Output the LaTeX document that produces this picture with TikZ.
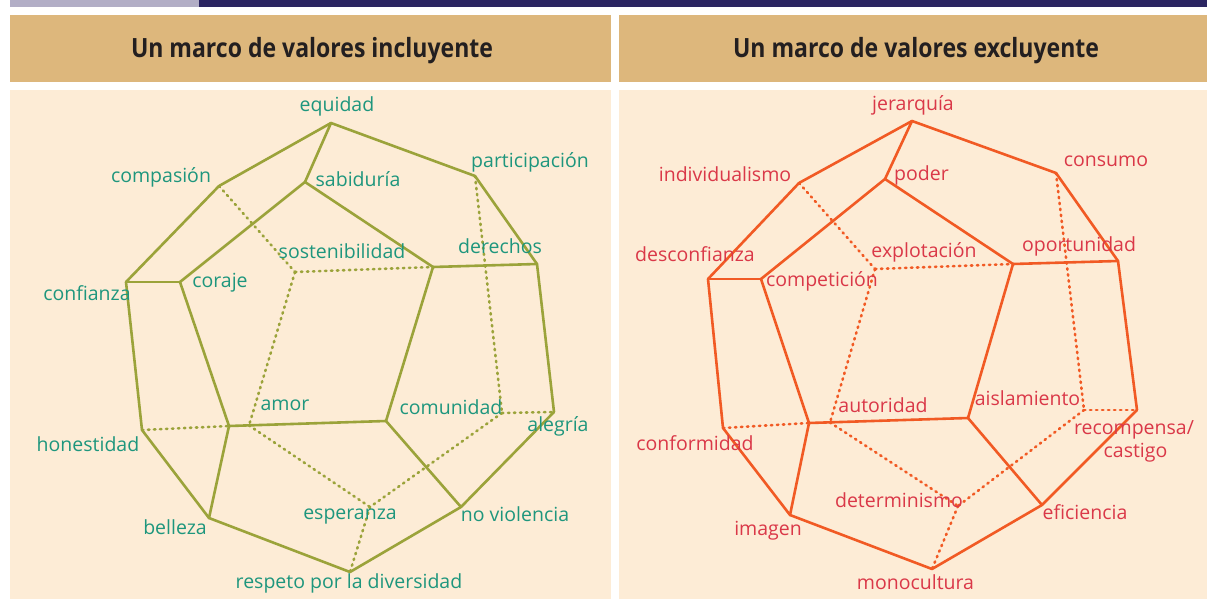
\documentclass[tikz,border=0pt]{standalone}
\usepackage{fontspec}
\setmainfont{Open Sans}
\newfontfamily\titlefont{Open Sans}
\definecolor{stripgray}{HTML}{B2AEC6}
\definecolor{stripnavy}{HTML}{2B2562}
\definecolor{headtan}{HTML}{DDB77C}
\definecolor{panelcream}{HTML}{FDECD6}
\definecolor{titleink}{HTML}{231F20}
\definecolor{oliveline}{HTML}{9BA33A}
\definecolor{tealtext}{HTML}{1E967D}
\definecolor{orangeline}{HTML}{F15A24}
\definecolor{redtext}{HTML}{DA3848}
\tikzset{
  solidedge/.style={line width=2.6pt, line join=round, line cap=round},
  dottededge/.style={line width=2.6pt, line cap=round, dash pattern=on 1.4pt off 4.6pt},
  vlabel/.style={anchor=base, inner sep=0pt, font=\fontsize{19.5}{22}\selectfont},
  titlelabel/.style={anchor=base, inner sep=0pt, text=titleink},
}
\newcommand\polyedges[3]{%
  \foreach \a/\b in {eq/com,eq/sab,eq/par,com/conf,sab/cor,sab/inn,par/der,conf/cor,inn/der,conf/hon,cor/amF,inn/comF,der/ale,hon/bel,amF/comF,amF/bel,comF/nov,ale/nov,bel/res,nov/res}
    \draw[solidedge,#2] (#1\a) -- (#1\b);
  \foreach \a/\b in {com/sos,sos/inn,sos/amH,par/comH,comH/ale,hon/amF,amH/esp,comH/esp,esp/res}
    \draw[dottededge,#3] (#1\a) -- (#1\b);
}
\begin{document}
\begin{tikzpicture}[x=1pt,y=-1pt]
\useasboundingbox (0,0) rectangle (1207,599);
\fill[white] (0,0) rectangle (1207,599);
% top strip
\fill[stripgray] (10,0) rectangle (199,7);
\fill[stripnavy] (199,0) rectangle (1207,7);
% headers
\fill[headtan] (10,15) rectangle (610.5,82.5);
\fill[headtan] (619,15) rectangle (1207,82.5);
% panels
\fill[panelcream] (10,90) rectangle (610.5,599);
\fill[panelcream] (619,90) rectangle (1207,599);
% titles
\node[titlelabel] (tl) at (312,58) {\resizebox{362pt}{\height}{\titlefont\bfseries\fontsize{26.5}{28}\selectfont Un marco de valores incluyente}};
\node[titlelabel] (tr) at (916,58) {\resizebox{366pt}{\height}{\titlefont\bfseries\fontsize{26.5}{28}\selectfont Un marco de valores excluyente}};

% left vertices
\coordinate (Leq) at (331,123);
\coordinate (Lcom) at (219,186);
\coordinate (Lsab) at (305,182);
\coordinate (Lpar) at (475,176);
\coordinate (Lconf) at (126,282);
\coordinate (Lcor) at (180,282);
\coordinate (Lsos) at (295,272);
\coordinate (Linn) at (433,267);
\coordinate (Lder) at (537,264);
\coordinate (Lhon) at (142,430);
\coordinate (LamF) at (229,426);
\coordinate (LamH) at (249,425.4);
\coordinate (LcomF) at (386,421);
\coordinate (LcomH) at (502,413);
\coordinate (Lale) at (554,412);
\coordinate (Lbel) at (209,518);
\coordinate (Lesp) at (370,507);
\coordinate (Lnov) at (461,507);
\coordinate (Lres) at (350,572);
% right vertices
\coordinate (Req) at (912,121);
\coordinate (Rcom) at (799,183);
\coordinate (Rsab) at (885,179);
\coordinate (Rpar) at (1056,173);
\coordinate (Rconf) at (708,279);
\coordinate (Rcor) at (761,279);
\coordinate (Rsos) at (875,269);
\coordinate (Rinn) at (1013,264);
\coordinate (Rder) at (1118,261);
\coordinate (Rhon) at (723,428);
\coordinate (RamF) at (809,423);
\coordinate (RamH) at (830,422.5);
\coordinate (RcomF) at (968,418);
\coordinate (RcomH) at (1084,410);
\coordinate (Rale) at (1137,410);
\coordinate (Rbel) at (790,515);
\coordinate (Resp) at (958,506);
\coordinate (Rnov) at (1042,505);
\coordinate (Rres) at (932,569);

\polyedges{L}{oliveline}{oliveline}
\polyedges{R}{orangeline}{orangeline}

% left labels
\begin{scope}[every node/.style={vlabel,text=tealtext}]
\node (l1) at (337,111.7) {equidad};
\node (l2) at (161,182.7) {compasión};
\node (l3) at (358,186) {sabiduría};
\node (l4) at (530,167.7) {participación};
\node (l5) at (342,258) {sostenibilidad};
\node (l6) at (500,253) {derechos};
\node (l7) at (220,287) {coraje};
\node (l8) at (87,300.7) {confianza};
\node (l9) at (285,410.7) {amor};
\node (l10) at (451,414) {comunidad};
\node (l11) at (558,431.7) {alegría};
\node (l12) at (88,451.7) {honestidad};
\node (l13) at (350,519) {esperanza};
\node (l14) at (515,521.7) {no violencia};
\node (l15) at (175,534) {belleza};
\node (l16) at (349,588) {respeto por la diversidad};
\end{scope}
% right labels
\begin{scope}[every node/.style={vlabel,text=redtext}]
\node (r1) at (913,110.7) {jerarquía};
\node (r2) at (725,181.7) {individualismo};
\node (r3) at (921.5,180.7) {poder};
\node (r4) at (1106,166.7) {consumo};
\node (r5) at (924,257.7) {explotación};
\node (r6) at (1079,251.7) {oportunidad};
\node (r7) at (695,261.7) {desconfianza};
\node (r8) at (822,286.7) {competición};
\node (r9) at (883,412.7) {autoridad};
\node (r10) at (1027.5,405) {aislamiento};
\node (r11) at (1134,434) {recompensa/};
\node (r12) at (1135.5,457.3) {castigo};
\node (r13) at (695,450.7) {conformidad};
\node (r14) at (899,507.3) {determinismo};
\node (r15) at (1085,519) {eficiencia};
\node (r16) at (768,535) {imagen};
\node (r17) at (915.5,589.3) {monocultura};
\end{scope}
\end{tikzpicture}
\end{document}
